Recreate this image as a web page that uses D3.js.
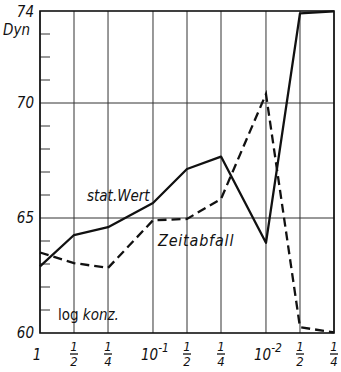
<!DOCTYPE html>
<html>
<head>
<meta charset="utf-8">
<script src="https://cdn.jsdelivr.net/npm/d3@7"></script>
<style>
  html, body { margin: 0; padding: 0; background: #fff; }
  svg { display: block; }
  text { font-family: "Liberation Sans Narrow", "DejaVu Sans Condensed", "Liberation Sans", sans-serif; fill: #111; }
</style>
</head>
<body>
<svg id="chart" width="341" height="372"></svg>
<script>
// Concentrations along the logarithmic x axis
const conc = [1, 0.5, 0.25, 0.1, 0.05, 0.025, 0.01, 0.005, 0.0025];
// Labels under each concentration: plain, fraction "n/d", or power "10^e"
const concLabels = ["1", "1/2", "1/4", "10^-1", "1/2", "1/4", "10^-2", "1/2", "1/4"];
// Surface tension (Dyn) — static value (solid) and time decay (dashed)
const statWert = [62.9, 64.26, 64.6, 65.65, 67.13, 67.67, 63.92, 73.9, 73.98];
const zeitabfall = [63.5, 63.04, 62.83, 64.9, 64.96, 65.83, 70.39, 60.25, 60.03];
// Y axis
const yLabels = [60, 65, 70, 74];
const yGrid = [65, 70];
const yMinor = [61, 62, 63, 64, 66, 67, 68, 69, 71, 72, 73];

const svg = d3.select("#chart");
const plotL = 40, plotR = 334, plotT = 11, plotB = 333;

const x = d3.scaleLog().domain([1, 0.0025]).range([plotL, plotR]);
const y = d3.scaleLinear().domain([60, 74]).range([plotB, plotT]);

const ink = "#111";

// vertical grid lines at every concentration
svg.append("g").selectAll("line").data(conc).join("line")
  .attr("x1", d => x(d)).attr("x2", d => x(d))
  .attr("y1", plotT).attr("y2", plotB)
  .attr("stroke", "#333").attr("stroke-width", 1);

// horizontal grid lines
svg.append("g").selectAll("line").data(yGrid).join("line")
  .attr("x1", plotL).attr("x2", plotR)
  .attr("y1", d => y(d)).attr("y2", d => y(d))
  .attr("stroke", "#333").attr("stroke-width", 1);

// minor ticks inside the left axis
svg.append("g").selectAll("line").data(yMinor).join("line")
  .attr("x1", plotL).attr("x2", plotL + 10)
  .attr("y1", d => y(d)).attr("y2", d => y(d))
  .attr("stroke", "#333").attr("stroke-width", 1);

// frame
svg.append("rect")
  .attr("x", plotL).attr("y", plotT)
  .attr("width", plotR - plotL).attr("height", plotB - plotT)
  .attr("fill", "none").attr("stroke", ink).attr("stroke-width", 1.6);

// curves
const line = d3.line().x((d, i) => x(conc[i])).y(d => y(d));
svg.append("path").datum(statWert)
  .attr("d", line).attr("fill", "none")
  .attr("stroke", ink).attr("stroke-width", 2.3).attr("stroke-linejoin", "round");
svg.append("path").datum(zeitabfall)
  .attr("d", line).attr("fill", "none")
  .attr("stroke", ink).attr("stroke-width", 2.3)
  .attr("stroke-dasharray", "9,5");

// y labels
svg.append("g").selectAll("text").data(yLabels).join("text")
  .attr("x", 34).attr("y", d => d === 74 ? y(d) + 6 : y(d) + 5)
  .attr("text-anchor", "end")
  .attr("font-size", 15).attr("font-style", "italic")
  .text(d => d);
svg.append("text")
  .attr("x", 3).attr("y", 35)
  .attr("font-size", 15).attr("font-style", "italic")
  .text("Dyn");

// x labels
const xl = svg.append("g");
concLabels.forEach((lab, i) => {
  const cx = x(conc[i]);
  if (lab.includes("/")) {
    const [n, dnm] = lab.split("/");
    xl.append("text").attr("x", cx).attr("y", 351).attr("text-anchor", "middle")
      .attr("font-size", 13).attr("font-style", "italic").text(n);
    xl.append("line").attr("x1", cx - 4).attr("x2", cx + 4)
      .attr("y1", 354).attr("y2", 354).attr("stroke", ink).attr("stroke-width", 1.3);
    xl.append("text").attr("x", cx).attr("y", 366).attr("text-anchor", "middle")
      .attr("font-size", 13).attr("font-style", "italic").text(dnm);
  } else if (lab.includes("^")) {
    const [b, e] = lab.split("^");
    const t = xl.append("text").attr("x", cx - 12).attr("y", 360)
      .attr("font-size", 15).attr("font-style", "italic");
    t.append("tspan").text(b);
    t.append("tspan").attr("dy", -8).attr("font-size", 12).text(e);
  } else {
    xl.append("text").attr("x", cx - 3).attr("y", 360).attr("text-anchor", "middle")
      .attr("font-size", 15).attr("font-style", "italic").text(lab);
  }
});

// annotations
svg.append("text").attr("x", 87).attr("y", 201)
  .attr("font-size", 15).attr("font-style", "italic").text("stat.Wert");
svg.append("text").attr("x", 158).attr("y", 246)
  .attr("font-size", 16).attr("font-style", "italic")
  .attr("letter-spacing", 0.8).text("Zeitabfall");
const lk = svg.append("text").attr("x", 58).attr("y", 320).attr("font-size", 15);
lk.append("tspan").text("log ");
lk.append("tspan").attr("font-style", "italic").text("konz.");
</script>
</body>
</html>
